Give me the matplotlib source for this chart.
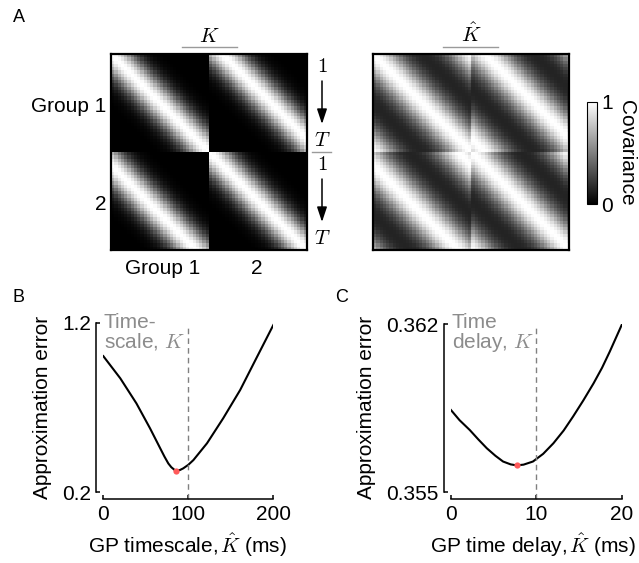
import numpy as np
import matplotlib
matplotlib.use("Agg")
import matplotlib.pyplot as plt
from matplotlib.lines import Line2D

plt.rcParams['font.family'] = ['Liberation Sans', 'DejaVu Sans']
plt.rcParams['mathtext.fontset'] = 'cm'
plt.rcParams['font.size'] = 15

# ---- covariance illustration (units: time bins) ----
n_bins = 30            # T
kernel_width = 4.7     # squared-exponential width of K
approx_width = 5.4     # effective width of the circulant approximation
group_delay = 4        # lag of group 2 relative to group 1
approx_floor = 0.1     # baseline offset of the circulant approximation

# ---- panel B: error vs GP timescale ----
timescale_ms = [0, 20, 39, 55, 67, 72, 76.5, 80, 85, 90, 94, 100, 106,
                122, 141, 161, 180, 200]
timescale_err = [1.003, 0.872, 0.724, 0.577, 0.459, 0.410, 0.370, 0.348,
                 0.327, 0.331, 0.341, 0.362, 0.390, 0.489, 0.636, 0.803,
                 0.990, 1.186]
timescale_best = 85
timescale_best_err = 0.327
timescale_true = 100
timescale_ticks = [0, 100, 200]
timescale_yticks = [0.2, 1.2]

# ---- panel C: error vs GP time delay ----
delay_ms = [0, 1, 2.2, 3.2, 4.2, 5.2, 6.1, 7.0, 7.7, 8.5, 9.6, 10.8, 12.0,
            13.2, 14.3, 15.5, 16.7, 17.7, 18.6, 20]
delay_err = [0.35842, 0.35800, 0.35759, 0.35720, 0.35683, 0.35652, 0.35628,
             0.35616, 0.35612, 0.35615, 0.35628, 0.35660, 0.35704, 0.35757,
             0.35815, 0.35882, 0.35953, 0.36018, 0.36085, 0.36196]
delay_best = 7.7
delay_best_err = 0.35612
delay_true = 10
delay_ticks = [0, 10, 20]
delay_yticks = [0.355, 0.362]

W, H = 639, 563
fig = plt.figure(figsize=(W / 100, H / 100), dpi=100)


def box(left, top, width, height):
    return [left / W, 1 - (top + height) / H, width / W, height / H]


def fx(x):
    return x / W


def fy(y):
    return 1 - y / H


# ---- kernels ----
bins = np.arange(n_bins)
lag = bins[None, :] - bins[:, None]


def se(d, w):
    return np.exp(-d ** 2 / (2 * w ** 2))


def se_periodic(d, w):
    return sum(se(d + m * n_bins, w) for m in range(-3, 4))


K = np.block([[se(lag, kernel_width), se(lag - group_delay, kernel_width)],
              [se(lag - group_delay, kernel_width).T, se(lag, kernel_width)]])
Kp = np.block([[se_periodic(lag, approx_width),
                se_periodic(lag - group_delay, approx_width)],
               [se_periodic(lag - group_delay, approx_width).T,
                se_periodic(lag, approx_width)]])
K_hat = np.clip(approx_floor + (1 - approx_floor) * Kp, 0, 1)

gray_line = '#9a9a9a'
gray_text = '#8c8c8c'


def draw_matrix(ax, M):
    im = ax.imshow(M, cmap='gray', vmin=0, vmax=1, interpolation='nearest',
                   aspect='auto')
    ax.set_xticks([])
    ax.set_yticks([])
    for s in ax.spines.values():
        s.set_linewidth(1.6)
    return im


axK = fig.add_axes(box(111, 54, 196, 196))
draw_matrix(axK, K)
axKh = fig.add_axes(box(373.3, 54, 196, 196))
im = draw_matrix(axKh, K_hat)

# titles with rule underneath
fig.text(fx(209.5), fy(36), r'$K$', ha='center', va='center', fontsize=15)
fig.add_artist(Line2D([fx(182), fx(237)], [fy(46.5), fy(46.5)],
                      color=gray_line, lw=1))
fig.text(fx(471), fy(34), r'$\hat{K}$', ha='center', va='center', fontsize=15)
fig.add_artist(Line2D([fx(443), fx(498)], [fy(46.5), fy(46.5)],
                      color=gray_line, lw=1))

# group labels
fig.text(fx(106), fy(106), 'Group 1', ha='right', va='center')
fig.text(fx(106), fy(204), '2', ha='right', va='center')
fig.text(fx(163), fy(268), 'Group 1', ha='center', va='center')
fig.text(fx(257), fy(268), '2', ha='center', va='center')

# time index markers on the right of K
for top_y in (54, 152):
    fig.text(fx(322), fy(top_y + 13), r'$1$', ha='center', va='center')
    fig.text(fx(322), fy(top_y + 87), r'$T$', ha='center', va='center')
    fig.add_artist(plt.Annotation(
        '', xy=(fx(322), fy(top_y + 70)), xytext=(fx(322), fy(top_y + 27)),
        xycoords='figure fraction',
        arrowprops=dict(arrowstyle='-|>,head_width=0.2,head_length=0.6',
                        color='k', lw=1.1, shrinkA=0, shrinkB=0)))
fig.add_artist(Line2D([fx(312), fx(331)], [fy(152), fy(152)],
                      color=gray_line, lw=1))

# colorbar
cax = fig.add_axes(box(587.3, 101.7, 10, 102.3))
cb = fig.colorbar(im, cax=cax, ticks=[0, 1])
cb.outline.set_linewidth(0.8)
cax.tick_params(length=0, pad=3)
cax.set_yticklabels(['0', '1'])
fig.text(fx(627), fy(153), 'Covariance', rotation=270, ha='center',
         va='center')

# panel letters
fig.text(fx(13), fy(17), 'A', ha='left', va='center', fontsize=13)
fig.text(fx(13), fy(297), 'B', ha='left', va='center', fontsize=13)
fig.text(fx(335), fy(297), 'C', ha='left', va='center', fontsize=13)


def style_line_axes(ax):
    for s in ('top', 'right'):
        ax.spines[s].set_visible(False)
    for s in ('left', 'bottom'):
        ax.spines[s].set_position(('outward', 5))
        ax.spines[s].set_linewidth(1.1)
    ax.tick_params(direction='in', length=3, width=1.1, pad=4)
    ax.patch.set_visible(False)


# panel B
axB = fig.add_axes(box(103.3, 322.7, 170, 169.6))
axB.plot(timescale_ms, timescale_err, color='k', lw=1.5)
axB.plot([timescale_best], [timescale_best_err], 'o', color='#ff5a5a',
         ms=4.5, mec='none', zorder=5)
axB.axvline(timescale_true, ymin=-0.042, ymax=0.986, color='#808080',
            ls=(0, (4, 3)), lw=1, clip_on=False)
axB.set_xlim(0, 200)
axB.set_ylim(0.2, 1.2)
axB.set_xticks(timescale_ticks)
axB.set_yticks(timescale_yticks)
axB.set_yticklabels(['0.2', '1.2'])
style_line_axes(axB)
fig.text(fx(104), fy(313), 'Time-\nscale, $K$', ha='left', va='top',
         color=gray_text, linespacing=0.95)
fig.text(fx(43), fy(407), 'Approximation error', rotation=90, ha='center',
         va='center')
fig.text(fx(187), fy(545), r'GP timescale,$\,\hat{K}$ (ms)', ha='center',
         va='center')

# panel C
axC = fig.add_axes(box(451, 324, 170.7, 168.3))
axC.plot(delay_ms, delay_err, color='k', lw=1.5)
axC.plot([delay_best], [delay_best_err], 'o', color='#ff5a5a',
         ms=4.5, mec='none', zorder=5)
axC.axvline(delay_true, ymin=-0.042, ymax=0.986, color='#808080',
            ls=(0, (4, 3)), lw=1, clip_on=False)
axC.set_xlim(0, 20)
axC.set_ylim(0.355, 0.362)
axC.set_xticks(delay_ticks)
axC.set_yticks(delay_yticks)
axC.set_yticklabels(['0.355', '0.362'])
style_line_axes(axC)
fig.text(fx(452), fy(313), 'Time\ndelay, $K$', ha='left', va='top',
         color=gray_text, linespacing=0.95)
fig.text(fx(367), fy(407), 'Approximation error', rotation=90, ha='center',
         va='center')
fig.text(fx(533), fy(545), r'GP time delay,$\,\hat{K}$ (ms)', ha='center',
         va='center')

fig.savefig('out.png', dpi=100)
